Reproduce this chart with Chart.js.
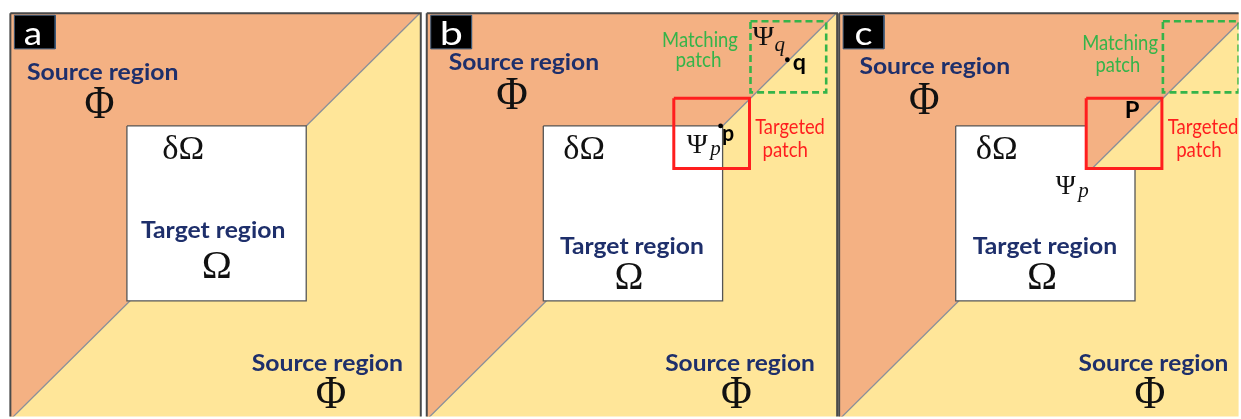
<!DOCTYPE html>
<html>
<head>
<meta charset="utf-8">
<script src="https://cdn.jsdelivr.net/npm/chart.js@4.4.1/dist/chart.umd.min.js"></script>
<style>
  html, body { margin: 0; padding: 0; background: #fff; overflow: hidden; }
  canvas { display: block; }
</style>
</head>
<body>
<canvas id="fig" width="1241" height="419"></canvas>
<script>
// left edge of each panel (page px); every shape below is in panel-local x, page y
const panelLeft = [8, 426, 840];
const panelTags = ['a', 'b', 'c'];

const frameX = [0, 412, 412, 0, 0];
const frameY = [11, 11, 422, 422, 11];
const upperSourceX = [0, 411, 0, 0];
const upperSourceY = [11, 11, 422, 11];
const edgeX = [411, 0];
const edgeY = [11, 422];
const targetX = [117, 297, 297, 117, 117];
const targetY = [125, 125, 302, 302, 125];
// panel c: the targeted patch has already been filled in
const targetLeftX = [117, 248, 248, 297, 297, 117, 117];
const targetLeftY = [125, 125, 168, 168, 302, 302, 125];
const targetPatchX = [248, 324, 324, 248, 248];
const targetPatchY = [97, 97, 168, 168, 97];
const matchPatchX = [325, 401, 401, 325, 325];
const matchPatchY = [19, 19, 91, 91, 19];
const tagBoxX = [4, 45, 45, 4, 4];
const tagBoxY = [13, 13, 47, 47, 13];
const pointP = [295, 125];
const pointQ = [362, 58];

const orange = '#F4B183';
const yellow = '#FFE699';
const navy = '#1E2F6B';
const green = '#34B449';
const red = '#FF1E1E';

function poly(xs, ys, off) {
  return xs.map((x, i) => ({ x: x + off, y: ys[i] }));
}

let datasets = [];
function shape(xs, ys, off, fillCol, lineCol, lineW, dash) {
  datasets.push({
    data: poly(xs, ys, off),
    showLine: true,
    fill: fillCol ? 'shape' : false,
    backgroundColor: fillCol || 'rgba(0,0,0,0)',
    borderColor: lineCol || 'rgba(0,0,0,0)',
    borderWidth: lineW || 0,
    borderDash: dash || [],
    pointRadius: 0,
    pointHoverRadius: 0
  });
}

for (let p = 0; p < 3; p++) {
  let off = panelLeft[p];
  shape(frameX, frameY, off, yellow);
  shape(upperSourceX, upperSourceY, off, orange);
  shape(edgeX, edgeY, off, null, '#8A8F99', 1.3);
  if (p < 2) {
    shape(targetX, targetY, off, '#FFFFFF', '#555555', 1.3);
  } else {
    shape(targetLeftX, targetLeftY, off, '#FFFFFF', '#555555', 1.3);
  }
  if (p > 0) {
    shape(targetPatchX, targetPatchY, off, null, red, 3);
    shape(matchPatchX, matchPatchY, off, null, green, 2.6, [7, 4]);
  }
  shape(frameX, frameY, off, null, '#4A4A4A', 2);
  shape(tagBoxX, tagBoxY, off, '#000000', '#3B5878', 1);
}
// the two patch centres in panel b
datasets.push({
  data: [poly([pointP[0]], [pointP[1]], panelLeft[1])[0], poly([pointQ[0]], [pointQ[1]], panelLeft[1])[0]],
  showLine: false,
  pointRadius: 2.4,
  pointHoverRadius: 0,
  backgroundColor: '#000000',
  borderWidth: 0
});
datasets.forEach((d, i) => { d.order = datasets.length - i; });

const fonts = {
  tag: '33px Lato',
  bold: 'bold 22px Lato',
  small: '21px Lato',
  letter: 'bold 22px Lato',
  phi: '46px "Liberation Serif"',
  omega: '39px "Liberation Serif"',
  dOmega: '33px "Liberation Serif"',
  psi: '27px "Liberation Serif"',
  sub: 'italic 21px "Liberation Serif"'
};

// t, ink centre x, baseline y, font, colour, ink width
const labels = [
  ['a', 30.5, 43, 'tag', '#FFFFFF', 15.7],
  ['Source region', 100.5, 78, 'bold', navy, 151],
  ['\u03A6', 97.5, 116.5, 'phi', '#111', 28.5],
  ['\u03B4\u03A9', 181.3, 158, 'dOmega', '#111', 39.3],
  ['Target region', 211.3, 238, 'bold', navy, 144],
  ['\u03A9', 215.3, 279, 'omega', '#111', 26],
  ['Source region', 326, 372.5, 'bold', navy, 151],
  ['\u03A6', 330, 410.5, 'phi', '#111', 29],

  ['b', 451.7, 43, 'tag', '#FFFFFF', 20],
  ['Source region', 523.3, 68, 'bold', navy, 150],
  ['\u03A6', 511.7, 108, 'phi', '#111', 30],
  ['\u03B4\u03A9', 583.7, 158, 'dOmega', '#111', 39],
  ['\u03A8', 697.5, 152.5, 'psi', '#111', 21],
  ['p', 714.5, 154, 'sub', '#111'],
  ['p', 728.7, 140, 'letter', '#000', 10.7],
  ['Matching', 700.8, 45, 'small', green, 75],
  ['patch', 699, 65, 'small', green, 44.5],
  ['\u03A8', 764, 43, 'psi', '#111', 21.7],
  ['q', 780.5, 49, 'sub', '#111'],
  ['q', 799.7, 68.3, 'letter', '#000', 12.7],
  ['Targeted', 790.3, 133.3, 'small', red, 69],
  ['patch', 786, 156.7, 'small', red, 44],
  ['Target region', 631.7, 255, 'bold', navy, 143.3],
  ['\u03A9', 629, 290, 'omega', '#111', 25],
  ['Source region', 740.3, 372.7, 'bold', navy, 149.3],
  ['\u03A6', 737, 410, 'phi', '#111', 29.3],

  ['c', 864.7, 43, 'tag', '#FFFFFF', 16],
  ['Source region', 935.8, 72.7, 'bold', navy, 150.3],
  ['\u03A6', 925.5, 112.5, 'phi', '#111', 29],
  ['\u03B4\u03A9', 998, 158, 'dOmega', '#111', 39.3],
  ['\u03A8', 1067.5, 194, 'psi', '#111', 20],
  ['p', 1084, 197, 'sub', '#111'],
  ['P', 1134.7, 116.7, 'letter', '#000', 14],
  ['Matching', 1122.5, 48.3, 'small', green, 75],
  ['patch', 1120, 70, 'small', green, 43.3],
  ['Targeted', 1205, 133.3, 'small', red, 70],
  ['patch', 1201.3, 156.7, 'small', red, 44],
  ['Target region', 1046.3, 255, 'bold', navy, 144],
  ['\u03A9', 1043.7, 290, 'omega', '#111', 26],
  ['Source region', 1155.3, 372.7, 'bold', navy, 149.3],
  ['\u03A6', 1152, 410, 'phi', '#111', 29.3]
];

const textPlugin = {
  id: 'diagramText',
  afterDatasetsDraw(chart) {
    const ctx = chart.ctx;
    const xs = chart.scales.x, ys = chart.scales.y;
    labels.forEach(l => {
      ctx.save();
      ctx.font = fonts[l[3]];
      ctx.fillStyle = l[4];
      ctx.textAlign = 'left';
      ctx.textBaseline = 'alphabetic';
      let m = ctx.measureText(l[0]);
      let inkW = m.actualBoundingBoxLeft + m.actualBoundingBoxRight;
      let s = l[5] ? l[5] / inkW : 1;
      ctx.translate(xs.getPixelForValue(l[1]), ys.getPixelForValue(l[2]));
      ctx.scale(s, 1);
      ctx.fillText(l[0], -(m.actualBoundingBoxRight - m.actualBoundingBoxLeft) / 2, 0);
      ctx.restore();
    });
  }
};

new Chart(document.getElementById('fig'), {
  type: 'scatter',
  data: { datasets: datasets },
  options: {
    responsive: false,
    animation: false,
    devicePixelRatio: 1,
    layout: { padding: 0 },
    events: [],
    scales: {
      x: { type: 'linear', min: 0, max: 1241, display: false },
      y: { type: 'linear', min: 0, max: 419, reverse: true, display: false }
    },
    plugins: {
      legend: { display: false },
      tooltip: { enabled: false }
    }
  },
  plugins: [textPlugin]
});
</script>
</body>
</html>
